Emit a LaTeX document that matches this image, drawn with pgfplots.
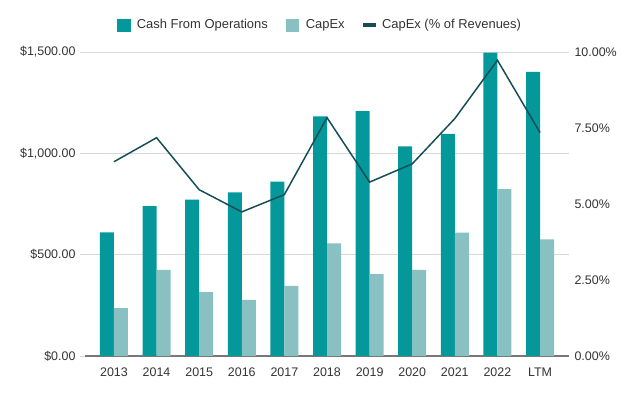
\documentclass[border=0pt]{standalone}
\usepackage{pgfplots}
\pgfplotsset{compat=1.18}
\usepackage{pgfplotstable}
\usepackage{fontspec}
\setmainfont{Liberation Sans}
\definecolor{cfo}{RGB}{4,152,155}
\definecolor{capex}{RGB}{137,192,194}
\definecolor{pct}{RGB}{22,78,88}
\definecolor{gridc}{RGB}{217,217,217}
\definecolor{basec}{RGB}{120,120,120}
\definecolor{txt}{RGB}{51,51,51}
\pgfplotstableread{
x cfo capex pct
0 610 236 6.39
1 740 425 7.18
2 771 315 5.47
3 807 277 4.74
4 860 346 5.31
5 1182 556 7.84
6 1208 404 5.72
7 1034 425 6.32
8 1096 609 7.81
9 1497 824 9.73
10 1402 576 7.35
}\data
\begin{document}
\begin{tikzpicture}[font=\fontsize{12.5}{15}\selectfont, text=txt]
\useasboundingbox (0,0) rectangle (640bp,396bp);
\begin{axis}[
  at={(85bp,40bp)}, anchor=south west,
  scale only axis, width=484bp, height=304bp,
  xmin=-0.68, xmax=10.68, ymin=0, ymax=1500,
  ybar=0pt, bar width=14bp,
  xtick={0,...,10},
  xticklabels={2013,2014,2015,2016,2017,2018,2019,2020,2021,2022,LTM},
  ytick={0,500,1000,1500},
  yticklabels={{\$0.00},{\$500.00},{\$1{,}000.00},{\$1{,}500.00}},
  ymajorgrids, grid style={gridc, line width=0.8pt},
  axis x line*=bottom, axis y line*=left,
  y axis line style={draw=none},
  x axis line style={basec, line width=1.2pt, -},
  xtick style={draw=none},
  ytick style={gridc, line width=0.8pt},
  tick align=outside, major tick length=5bp,
  yticklabel style={text=txt, anchor=east, xshift=-1bp},
  xticklabel style={text=txt, yshift=-3bp},
  legend style={at={(0.4855,1.089)}, anchor=center, draw=none, fill=none,
    legend columns=-1, font=\fontsize{13}{15}\selectfont,
    /tikz/every odd column/.append style={column sep=5bp},
    /tikz/every even column/.append style={column sep=16bp},
    nodes={text=txt}},
]
\addlegendimage{legend image code/.code={\fill[cfo] (0bp,-6bp) rectangle (12.5bp,6bp);}}
\addlegendentry{Cash From Operations}
\addlegendimage{legend image code/.code={\fill[capex] (0bp,-6bp) rectangle (12.5bp,6bp);}}
\addlegendentry{CapEx}
\addlegendimage{legend image code/.code={\fill[pct] (0bp,-1.6bp) rectangle (12bp,1.6bp);}}
\addlegendentry{CapEx (\% of Revenues)}
\addplot[fill=cfo, draw=none, forget plot, bar shift=-7bp] table[x=x, y=cfo] {\data};
\addplot[fill=capex, draw=none, forget plot, bar shift=7bp] table[x=x, y=capex] {\data};
\end{axis}
\begin{axis}[
  at={(85bp,40bp)}, anchor=south west,
  scale only axis, width=484bp, height=304bp,
  xmin=-0.68, xmax=10.68, ymin=0, ymax=10,
  axis x line=none, axis y line*=right,
  y axis line style={draw=none},
  ytick={0,2.5,5,7.5,10},
  yticklabels={0.00\%,2.50\%,5.00\%,7.50\%,10.00\%},
  ytick style={draw=none},
  yticklabel style={text=txt, anchor=west, xshift=2bp},
]
\addplot[pct, line width=1.5pt, mark=none] table[x=x, y=pct] {\data};
\end{axis}
\end{tikzpicture}
\end{document}
